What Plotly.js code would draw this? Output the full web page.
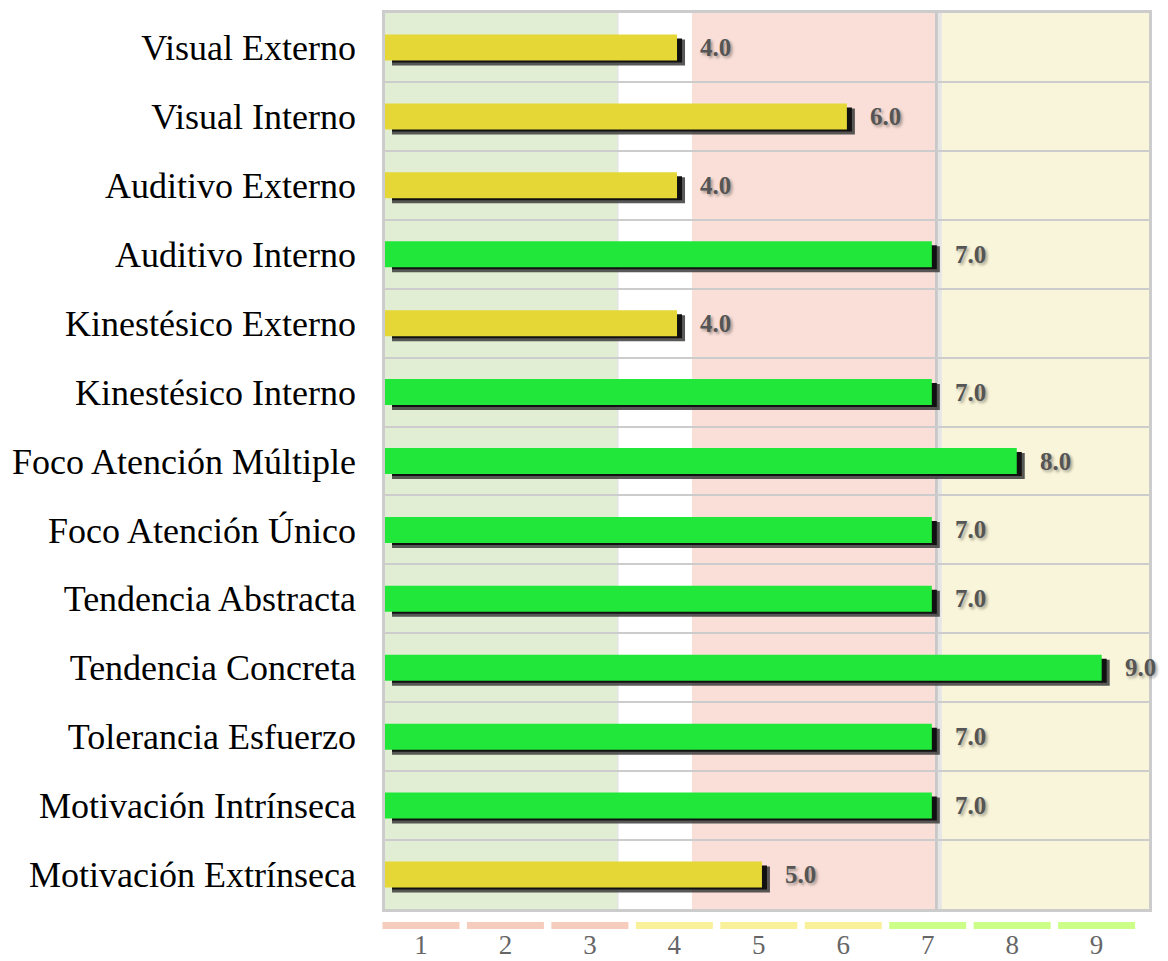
<!DOCTYPE html>
<html>
<head>
<meta charset="utf-8">
<script src="https://cdn.plot.ly/plotly-3.0.1.min.js"></script>
<style>
  html, body { margin: 0; padding: 0; background: #ffffff; }
  #chart { width: 1168px; height: 961px; }
</style>
</head>
<body>
<div id="chart"></div>
<script>
// ---- data ----
const categories = [
  "Visual Externo",
  "Visual Interno",
  "Auditivo Externo",
  "Auditivo Interno",
  "Kinestésico Externo",
  "Kinestésico Interno",
  "Foco Atención Múltiple",
  "Foco Atención Único",
  "Tendencia Abstracta",
  "Tendencia Concreta",
  "Tolerancia Esfuerzo",
  "Motivación Intrínseca",
  "Motivación Extrínseca"
];
const values = [4, 6, 4, 7, 4, 7, 8, 7, 7, 9, 7, 7, 5];
const valueLabels = ["4.0", "6.0", "4.0", "7.0", "4.0", "7.0", "8.0", "7.0", "7.0", "9.0", "7.0", "7.0", "5.0"];
const scaleTicks = [1, 2, 3, 4, 5, 6, 7, 8, 9];
const scaleTickLabels = ["1", "2", "3", "4", "5", "6", "7", "8", "9"];
const scaleGroup = ["low", "low", "low", "mid", "mid", "mid", "high", "high", "high"];

// ---- style ----
const FONT = '"Liberation Serif", "Times New Roman", Times, serif';
const YELLOW = "#e4d736";
const GREEN = "#20e73a";
const segColors = { low: "#f6cdbd", mid: "#f9f09a", high: "#ccff88" };
const XMIN = 0.5616, XMAX = 9.557;
const PXX = 84.93;            // px per x unit
const PXY = 68.92;            // px per category row
const BARW = 0.377;

const barColors = values.map(v => v >= 7 ? GREEN : YELLOW);

// shadow helpers (pixel offsets converted to axis units)
const sdx = px => px / PXX;
const sdy = px => px / PXY;

const shadowOuter = {
  type: "bar", orientation: "h", y: categories,
  base: values.map(() => XMIN + sdx(7)),
  x: values.map(v => v + sdx(8) - (XMIN + sdx(7))),
  width: BARW, offset: -BARW / 2 + sdy(5),
  marker: { color: "rgba(60,60,60,0.85)", line: { width: 0 } },
  hoverinfo: "skip", showlegend: false, xaxis: "x", yaxis: "y"
};
const shadowInner = {
  type: "bar", orientation: "h", y: categories,
  base: values.map(() => XMIN + sdx(7)),
  x: values.map(v => v + sdx(5) - (XMIN + sdx(7))),
  width: BARW - sdy(2), offset: -BARW / 2 + sdy(4),
  marker: { color: "#111111", line: { width: 0 } },
  hoverinfo: "skip", showlegend: false, xaxis: "x", yaxis: "y"
};
const mainBars = {
  type: "bar", orientation: "h", y: categories, x: values,
  width: BARW, offset: -BARW / 2,
  marker: { color: barColors, line: { width: 0 } },
  hoverinfo: "x+y", showlegend: false, xaxis: "x", yaxis: "y"
};
const scaleBars = {
  type: "bar", x: scaleTicks, y: scaleTicks.map(() => 1), base: 0,
  width: 0.912,
  marker: { color: scaleGroup.map(g => segColors[g]), line: { width: 0 } },
  hoverinfo: "skip", showlegend: false, xaxis: "x2", yaxis: "y2"
};

const annotations = values.map((v, i) => ({
  x: v, y: categories[i], xref: "x", yref: "y",
  text: valueLabels[i], showarrow: false,
  xanchor: "left", yanchor: "middle", xshift: 21, yshift: 0,
  font: { family: FONT, size: 25, color: "#555555", weight: "bold",
          shadow: "2px 2px 3px rgba(0,0,0,0.35)" }
}));

const bands = [
  { x0: XMIN, x1: 3.297, color: "#e2eed3" },
  { x0: 3.297, x1: 3.31, color: "#dcdcdc" },
  { x0: 4.176, x1: 7.037, color: "#f9dfd7" },
  { x0: 7.037, x1: 7.072, color: "#c8c8c8" },
  { x0: 7.072, x1: 7.119, color: "#e6e6e6" },
  { x0: 7.119, x1: XMAX, color: "#f9f5da" }
];
const shapes = bands.map(b => ({
  type: "rect", xref: "x", yref: "paper", x0: b.x0, x1: b.x1,
  y0: 1 - 909 / 961, y1: 1 - 13 / 961,
  fillcolor: b.color, line: { width: 0 }, layer: "below"
}));
// plot frame
shapes.push({
  type: "rect", xref: "paper", yref: "paper",
  x0: (383.5 - 370) / 788, x1: (1150.5 - 370) / 788,
  y0: 1 - 910.5 / 961, y1: 1 - 11.5 / 961,
  line: { color: "#cccccc", width: 3 }, fillcolor: "rgba(0,0,0,0)", layer: "above"
});

const layout = {
  width: 1168, height: 961,
  margin: { l: 370, r: 10, t: 0, b: 0, pad: 0 },
  paper_bgcolor: "#ffffff", plot_bgcolor: "rgba(0,0,0,0)",
  barmode: "overlay", showlegend: false,
  font: { family: FONT },
  xaxis: {
    domain: [(385 - 370) / 788, (1149 - 370) / 788],
    range: [XMIN, XMAX], showticklabels: false, showgrid: false,
    zeroline: false, showline: false, ticks: "", fixedrange: true
  },
  yaxis: {
    domain: [1 - 909 / 961, 1 - 13 / 961],
    type: "category", range: [12.5, -0.5],
    tickson: "boundaries", showgrid: true, gridcolor: "#cccccc", gridwidth: 2,
    zeroline: false, showline: false, ticks: "",
    ticklabelstandoff: 28,
    tickfont: { family: FONT, size: 36, color: "#000000" }, fixedrange: true
  },
  xaxis2: {
    domain: [0, 1], anchor: "y2", range: [0.3961, 9.7269],
    tickvals: scaleTicks, ticktext: scaleTickLabels,
    tickfont: { family: FONT, size: 27, color: "#666666" },
    ticklabelstandoff: -3,
    showgrid: false, zeroline: false, showline: false, ticks: "", fixedrange: true
  },
  yaxis2: {
    domain: [1 - 929 / 961, 1 - 922 / 961], anchor: "x2", range: [0, 1],
    visible: false, fixedrange: true
  },
  shapes: shapes,
  annotations: annotations
};

Plotly.newPlot("chart", [shadowOuter, shadowInner, mainBars, scaleBars], layout,
  { displayModeBar: false, staticPlot: true });
</script>
</body>
</html>
